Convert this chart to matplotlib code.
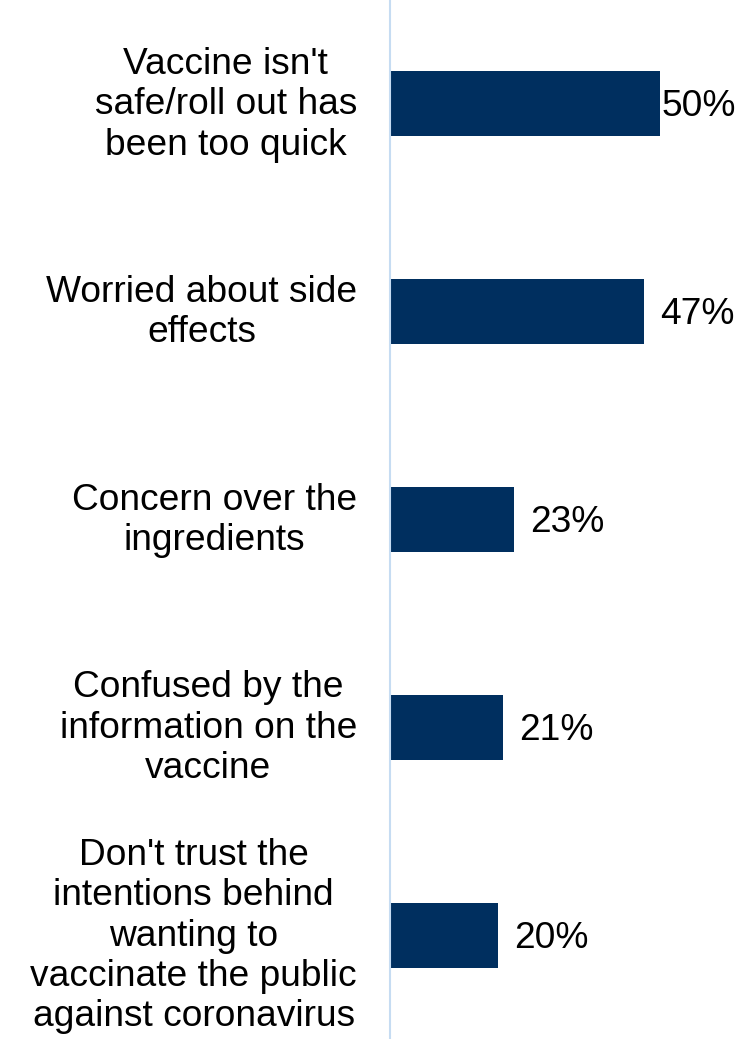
import matplotlib
matplotlib.use("Agg")
import matplotlib.pyplot as plt
from matplotlib.transforms import offset_copy

# Data
reasons = [
    "Vaccine isn't\nsafe/roll out has\nbeen too quick",
    "Worried about side\neffects",
    "Concern over the\ningredients",
    "Confused by the\ninformation on the\nvaccine",
    "Don't trust the\nintentions behind\nwanting to\nvaccinate the public\nagainst coronavirus",
]
shares = [50, 47, 23, 21, 20]

plt.rcParams['font.family'] = ['Liberation Sans', 'DejaVu Sans']

fig = plt.figure(figsize=(7.55, 10.39), dpi=100)
ax = fig.add_axes([390 / 755, 0, 1 - 390 / 755, 1])

ypos = list(range(len(reasons)))
ax.barh(ypos, shares, height=0.313, color='#002f5f', left=0)
ax.set_ylim(len(reasons) - 0.5, -0.5)
ax.set_xlim(0, 365 / 5.4)

for side in ['top', 'right', 'bottom']:
    ax.spines[side].set_visible(False)
ax.spines['left'].set_color('#c6dcf2')
ax.spines['left'].set_linewidth(1.5)
ax.set_xticks([])
ax.set_yticks([])

# category labels, right-aligned block with centred lines
for y, txt in zip(ypos, reasons):
    tr = offset_copy(ax.transData, fig=fig, x=-33, y=-1, units='dots')
    ax.text(0, y, txt, transform=tr, ha='right', va='center',
            multialignment='center', fontsize=26.7, linespacing=1.2,
            color='black')

# value labels
for y, v in zip(ypos, shares):
    pad = 2 if v == max(shares) else 16
    tr = offset_copy(ax.transData, fig=fig, x=pad, y=-3, units='dots')
    ax.text(v, y, f"{v}%", transform=tr, ha='left', va='center',
            fontsize=26.7, color='black', clip_on=False)

fig.savefig("out.png", dpi=100)
